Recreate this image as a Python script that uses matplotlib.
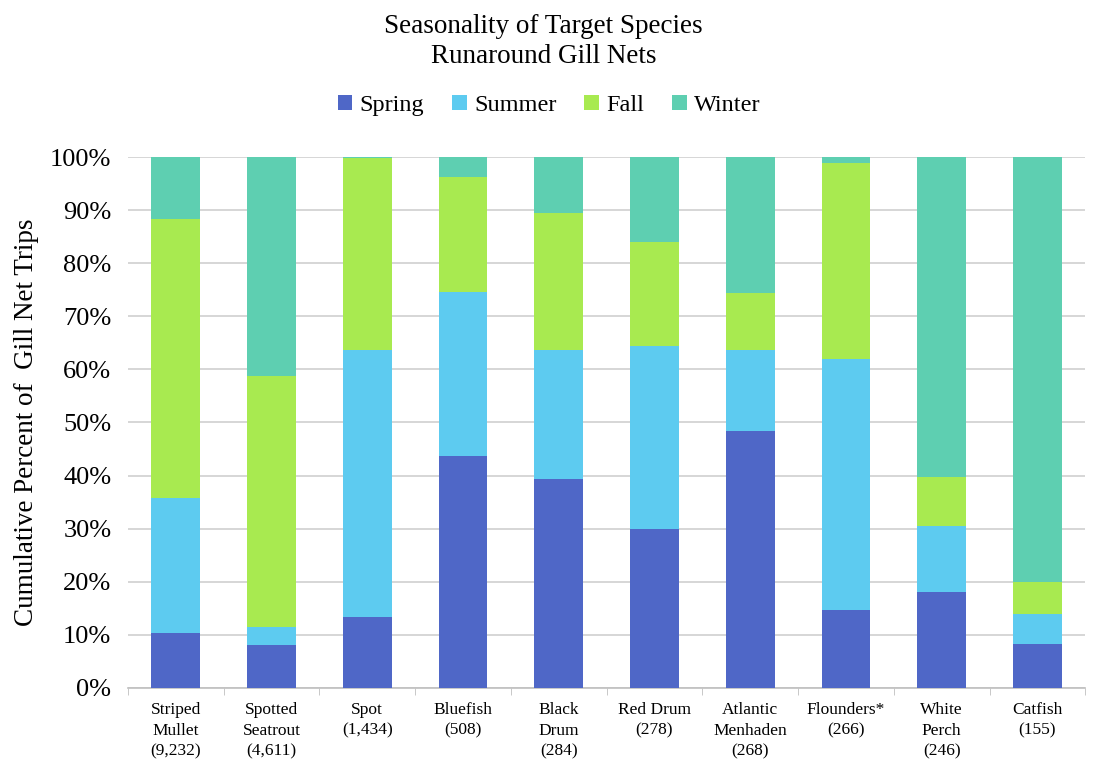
import numpy as np
import matplotlib.pyplot as plt
from matplotlib.ticker import PercentFormatter

# Data (cumulative tops, converted to shares)
species = ["Striped\nMullet\n(9,232)", "Spotted\nSeatrout\n(4,611)", "Spot\n(1,434)",
           "Bluefish\n(508)", "Black\nDrum\n(284)", "Red Drum\n(278)",
           "Atlantic\nMenhaden\n(268)", "Flounders*\n(266)", "White\nPerch\n(246)",
           "Catfish\n(155)"]
spring = [10.3, 8.1, 13.3, 43.7, 39.4, 30.0, 48.3, 14.6, 18.1, 8.3]
summer = [25.4, 3.3, 50.4, 30.9, 24.3, 34.4, 15.4, 47.4, 12.3, 5.7]
fall = [52.7, 47.4, 36.2, 21.7, 25.7, 19.6, 10.6, 36.8, 9.4, 6.0]
winter = [11.6, 41.2, 0.1, 3.7, 10.6, 16.0, 25.7, 1.2, 60.2, 80.0]

seasons = ["Spring", "Summer", "Fall", "Winter"]
colors = ["#4F67C7", "#5DCBF0", "#A8EA50", "#5ECFB1"]

plt.rcParams['font.family'] = ['Liberation Serif', 'DejaVu Serif']

fig = plt.figure(figsize=(10.94, 7.66), dpi=100)
ax = fig.add_axes([0.117, 0.102, 0.875, 0.693])

x = np.arange(len(species))
bottom = np.zeros(len(species))
for name, vals, c in zip(seasons, [spring, summer, fall, winter], colors):
    ax.bar(x, vals, 0.51, bottom=bottom, color=c, label=name, zorder=3)
    bottom += np.array(vals)

ax.set_xlim(-0.5, len(species) - 0.5)
ax.set_ylim(0, 100)
ax.set_yticks(np.arange(0, 101, 10))
ax.yaxis.set_major_formatter(PercentFormatter(decimals=0))
ax.grid(axis='y', color='#D0D0D0', linewidth=1.2, zorder=0)
ax.tick_params(axis='y', length=0, labelsize=19, pad=12)

ax.set_xticks(x)
ax.set_xticklabels(species, fontsize=12.5, linespacing=1.4)
ax.set_xticks(np.arange(-0.5, len(species)), minor=True)
ax.tick_params(axis='x', which='major', length=0, pad=10)
ax.tick_params(axis='x', which='minor', length=5, color='#BFBFBF')

for s in ['top', 'right', 'left']:
    ax.spines[s].set_visible(False)
ax.spines['bottom'].set_color('#BFBFBF')
ax.spines['bottom'].set_linewidth(1.2)

ax.set_ylabel("Cumulative Percent of  Gill Net Trips", fontsize=19.5, labelpad=8)

fig.text(0.497, 0.982, "Seasonality of Target Species\nRunaround Gill Nets",
         ha='center', va='top', fontsize=19.5, linespacing=1.25)

handles, labels = ax.get_legend_handles_labels()
fig.legend(handles, labels, loc='center', bbox_to_anchor=(0.502, 0.862), ncol=4,
           frameon=False, fontsize=17.5, handlelength=0.6, handleheight=0.6,
           handletextpad=0.3, columnspacing=1.15)

fig.savefig("out.png", dpi=100)
